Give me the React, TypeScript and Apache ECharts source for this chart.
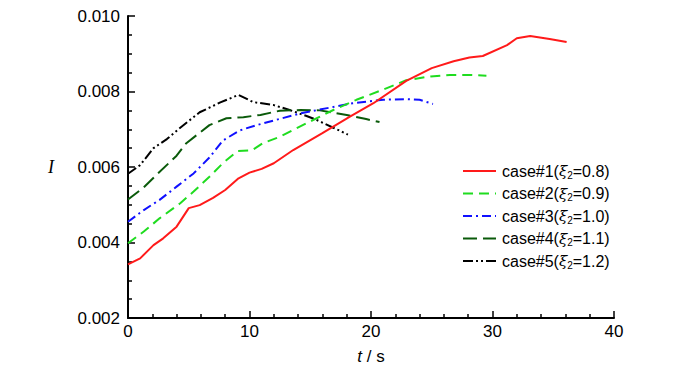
import React, { useEffect, useRef } from "react";
import * as echarts from "echarts";

const t1 = [0, 1.0, 2.1, 2.9, 4.0, 5.0, 5.9, 7.0, 8.0, 9.1, 10.0, 11.0, 12.0, 13.6, 16.0, 18.3, 20.2, 22.9, 25.0, 26.8, 28.1, 29.2, 31.2, 32.0, 33.1, 34.7, 36.1];
const i1 = [0.00342, 0.00358, 0.00393, 0.00411, 0.00442, 0.00491, 0.00499, 0.00518, 0.00539, 0.0057, 0.00585, 0.00595, 0.0061, 0.00645, 0.0069, 0.00734, 0.00769, 0.00828, 0.00862, 0.0088, 0.0089, 0.00894, 0.00923, 0.00941, 0.00947, 0.00939, 0.00931];

const t2 = [0, 1.3, 2.6, 4.3, 5.4, 6.7, 7.8, 9.0, 10.2, 11.1, 12.5, 14.7, 16.9, 18.8, 21.0, 22.9, 24.9, 26.5, 28.0, 29.5];
const i2 = [0.00398, 0.00429, 0.00464, 0.00504, 0.00535, 0.00574, 0.0061, 0.00642, 0.00644, 0.00663, 0.0068, 0.00716, 0.00751, 0.00778, 0.00805, 0.0083, 0.0084, 0.00844, 0.00844, 0.00842];

const t3 = [0, 1.3, 2.6, 4.0, 5.4, 6.7, 7.8, 9.2, 10.6, 12.2, 14.2, 16.4, 18.5, 21.0, 22.9, 24.0, 25.1];
const i3 = [0.00455, 0.00486, 0.00513, 0.00548, 0.00583, 0.00625, 0.0067, 0.00697, 0.00711, 0.00725, 0.00742, 0.00756, 0.00769, 0.00778, 0.0078, 0.00778, 0.00767];

const t4 = [0, 1.3, 2.4, 4.0, 4.8, 6.7, 8.1, 9.5, 10.9, 12.5, 14.2, 15.8, 18.0, 19.6, 20.7];
const i4 = [0.00514, 0.00546, 0.00581, 0.0063, 0.00663, 0.00711, 0.00729, 0.00732, 0.00738, 0.00749, 0.00751, 0.0075, 0.00738, 0.00727, 0.00719];

const t5 = [0, 1.0, 2.1, 3.2, 4.3, 5.9, 7.6, 9.1, 10.3, 12.0, 13.3, 14.7, 15.5, 16.9, 18.1];
const i5 = [0.00582, 0.00605, 0.0065, 0.00674, 0.00704, 0.00745, 0.00771, 0.00791, 0.00772, 0.00764, 0.00751, 0.00735, 0.00725, 0.00704, 0.00686];

const caseNames = ["case#1", "case#2", "case#3", "case#4", "case#5"];
const xiValues = ["0.8", "0.9", "1.0", "1.1", "1.2"];

const xTicks = { min: 0, max: 40, interval: 10 };
const yTicks = { min: 0.002, max: 0.01, interval: 0.002 };

const FONT = "Liberation Sans, Arial, sans-serif";

export default function App() {
  const ref = useRef<HTMLDivElement>(null);
  useEffect(() => {
    if (!ref.current) return;
    const chart = echarts.init(ref.current, undefined, { renderer: "svg" });
    const ts = [t1, t2, t3, t4, t5];
    const is = [i1, i2, i3, i4, i5];
    const colors = ["#ff1a1a", "#1fdc1f", "#1010ff", "#0a5a0a", "#000000"];
    const dashes: any[] = [
      "solid",
      [10, 6],
      [9, 4, 2, 4],
      [14, 6],
      [10, 3, 2, 3, 2, 3],
    ];
    const names = caseNames.map((c, k) => `${c}(\u03BE2=${xiValues[k]})`);
    const series = names.map((n, k) => ({
      name: n,
      type: "line",
      data: ts[k].map((t, j) => [t, is[k][j]]),
      showSymbol: false,
      symbol: "none",
      smooth: false,
      color: colors[k],
      lineStyle: { color: colors[k], width: 2, type: dashes[k] },
      z: 10 - k,
    }));
    chart.setOption({
      animation: false,
      backgroundColor: "#ffffff",
      grid: { left: 128, right: 86, top: 16, bottom: 57 },
      legend: {
        orient: "vertical",
        left: 457,
        top: 157,
        itemWidth: 33,
        itemHeight: 14,
        itemGap: 4.5,
        data: names,
        itemStyle: { opacity: 0 },
        formatter: (n: string) => {
          const k = names.indexOf(n);
          return `{a|${caseNames[k]}(}{xi|\u03BE}{sub|2}{a|=${xiValues[k]})}`;
        },
        textStyle: {
          fontFamily: FONT,
          fontSize: 16,
          color: "#000",
          padding: [0, 0, 0, 1],
          rich: {
            a: { fontFamily: FONT, fontSize: 16, color: "#000", lineHeight: 18 },
            xi: { fontFamily: "DejaVu Serif, serif", fontStyle: "italic", fontSize: 15, color: "#000", lineHeight: 18 },
            sub: { fontFamily: FONT, fontSize: 10, color: "#000", lineHeight: 18, verticalAlign: "bottom", padding: [8, 0, 0, 0] },
          },
        },
      },
      xAxis: {
        type: "value",
        min: xTicks.min,
        max: xTicks.max,
        interval: xTicks.interval,
        name: "{it|t} / s",
        nameLocation: "middle",
        nameGap: 30,
        nameTextStyle: {
          fontFamily: FONT,
          fontSize: 17,
          color: "#000",
          rich: {
            it: { fontFamily: FONT, fontStyle: "italic", fontSize: 17, color: "#000" },
          },
        },
        axisLine: { show: true, onZero: false, lineStyle: { color: "#000", width: 2 } },
        axisTick: { show: true, inside: true, length: 7, lineStyle: { color: "#000", width: 1.5 } },
        minorTick: { show: true, splitNumber: 5, length: 4, lineStyle: { color: "#000", width: 1.5 } },
        splitLine: { show: false },
        axisLabel: { fontFamily: FONT, fontSize: 17, color: "#000", margin: 5 },
      },
      yAxis: {
        type: "value",
        min: yTicks.min,
        max: yTicks.max,
        interval: yTicks.interval,
        name: "I",
        nameLocation: "middle",
        nameRotate: 0,
        nameGap: 74,
        nameTextStyle: { fontFamily: "Liberation Serif, serif", fontStyle: "italic", fontSize: 18, color: "#000" },
        axisLine: { show: true, onZero: false, lineStyle: { color: "#000", width: 2 } },
        axisTick: { show: true, inside: true, length: 7, lineStyle: { color: "#000", width: 1.5 } },
        minorTick: { show: true, splitNumber: 4, length: 4, lineStyle: { color: "#000", width: 1.5 } },
        splitLine: { show: false },
        axisLabel: {
          fontFamily: FONT,
          fontSize: 17,
          color: "#000",
          margin: 8,
          formatter: (v: number) => v.toFixed(3),
        },
      },
      series,
    });
    return () => chart.dispose();
  }, []);
  return (
    <div
      ref={ref}
      style={{ position: "fixed", left: 0, top: 0, width: 700, height: 375, background: "#fff" }}
    />
  );
}
